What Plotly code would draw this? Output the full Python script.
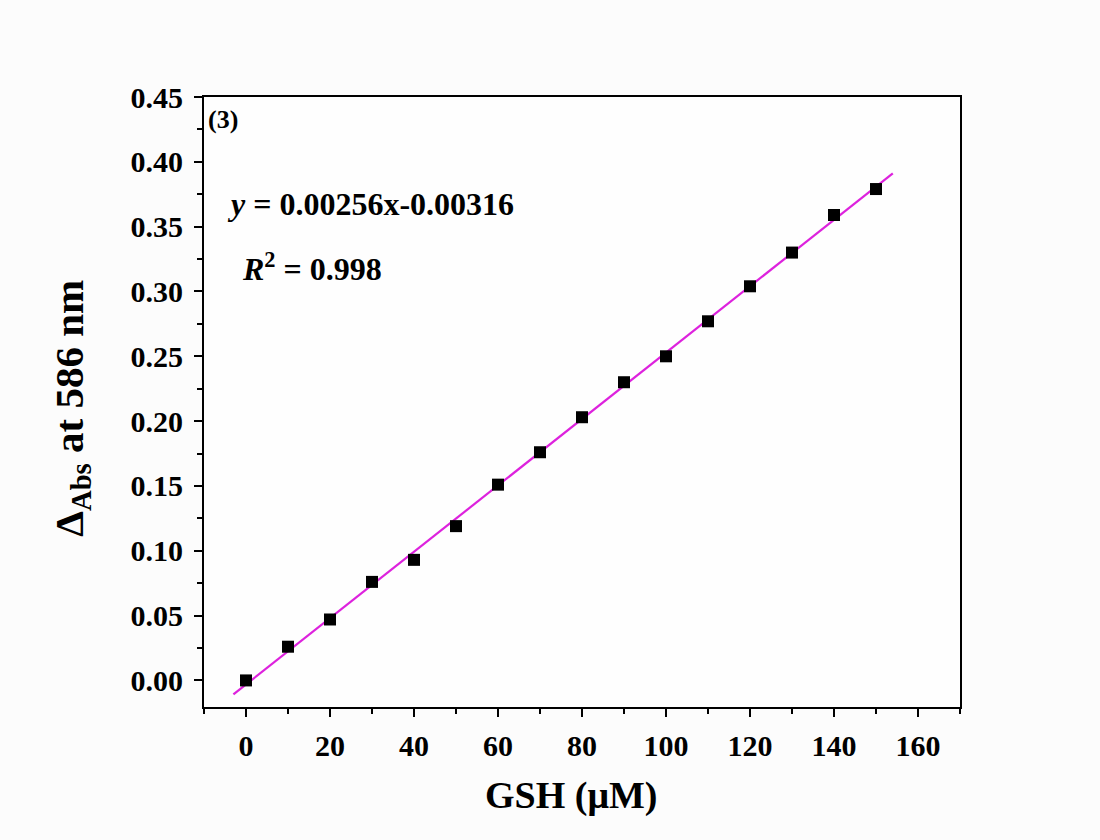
import plotly.graph_objects as go

# GSH concentration (µM) and absorbance change at 586 nm
gsh_um = [0, 10, 20, 30, 40, 50, 60, 70, 80, 90, 100, 110, 120, 130, 140, 150]
delta_abs = [0.000, 0.026, 0.047, 0.076, 0.093, 0.119, 0.151, 0.176,
             0.203, 0.230, 0.250, 0.277, 0.304, 0.330, 0.359, 0.379]

# linear fit parameters
slope = 0.00256
intercept = -0.00316
fit_x = [-3, 154]
fit_y = [slope * x + intercept for x in fit_x]

FONT = "Liberation Serif"

fig = go.Figure()
fig.add_trace(go.Scatter(
    x=fit_x, y=fit_y, mode="lines",
    line=dict(color="#dd22dd", width=2.2), showlegend=False,
))
fig.add_trace(go.Scatter(
    x=gsh_um, y=delta_abs, mode="markers",
    marker=dict(symbol="square", size=12, color="black"), showlegend=False,
))

axis_common = dict(
    showline=True, linecolor="black", linewidth=2, mirror=True,
    ticks="outside", ticklen=8, tickwidth=2, tickcolor="black",
    showgrid=False, zeroline=False,
    tickfont=dict(family=FONT, size=30, color="black", weight="bold"),
)

fig.update_xaxes(
    range=[-10, 170], tick0=0, dtick=20,
    minor=dict(ticks="outside", ticklen=5, tickwidth=2, tickcolor="black", dtick=10),
    ticklabelstandoff=3,
    **axis_common,
)
fig.update_yaxes(
    range=[-0.0205, 0.45], tick0=0, dtick=0.05, tickformat=".2f",
    minor=dict(ticks="outside", ticklen=5, tickwidth=2, tickcolor="black", dtick=0.025),
    ticklabelstandoff=5,
    **axis_common,
)

# axis titles
fig.add_annotation(
    x=0.485, y=-0.145, xref="paper", yref="paper", xanchor="center", yanchor="middle",
    text="GSH (μM)", showarrow=False,
    font=dict(family=FONT, size=38, color="black", weight="bold"),
)
fig.add_annotation(
    x=-0.175, y=0.49, xref="paper", yref="paper", xanchor="center", yanchor="middle",
    text="Δ<sub>Abs</sub> at 586 nm", showarrow=False, textangle=-90,
    font=dict(family=FONT, size=41, color="black", weight="bold"),
)

# panel label and fit results
fig.add_annotation(
    x=0.003, y=0.99, xref="paper", yref="paper", xanchor="left", yanchor="top",
    text="(3)", showarrow=False, font=dict(family=FONT, size=26, color="black", weight="bold"),
)
fig.add_annotation(
    x=0.028, y=0.825, xref="paper", yref="paper", xanchor="left", yanchor="middle",
    text="<i>y</i> = 0.00256x-0.00316", showarrow=False,
    font=dict(family=FONT, size=32, color="black", weight="bold"),
)
fig.add_annotation(
    x=0.048, y=0.721, xref="paper", yref="paper", xanchor="left", yanchor="middle",
    text="<i>R</i><sup>2</sup> = 0.998", showarrow=False,
    font=dict(family=FONT, size=32, color="black", weight="bold"),
)

fig.update_layout(
    width=1100, height=840,
    margin=dict(l=204, r=140, t=97, b=133),
    paper_bgcolor="#fcfcfc", plot_bgcolor="#fefefe",
    font=dict(family=FONT, color="black"),
)

fig.write_html("out.html")
